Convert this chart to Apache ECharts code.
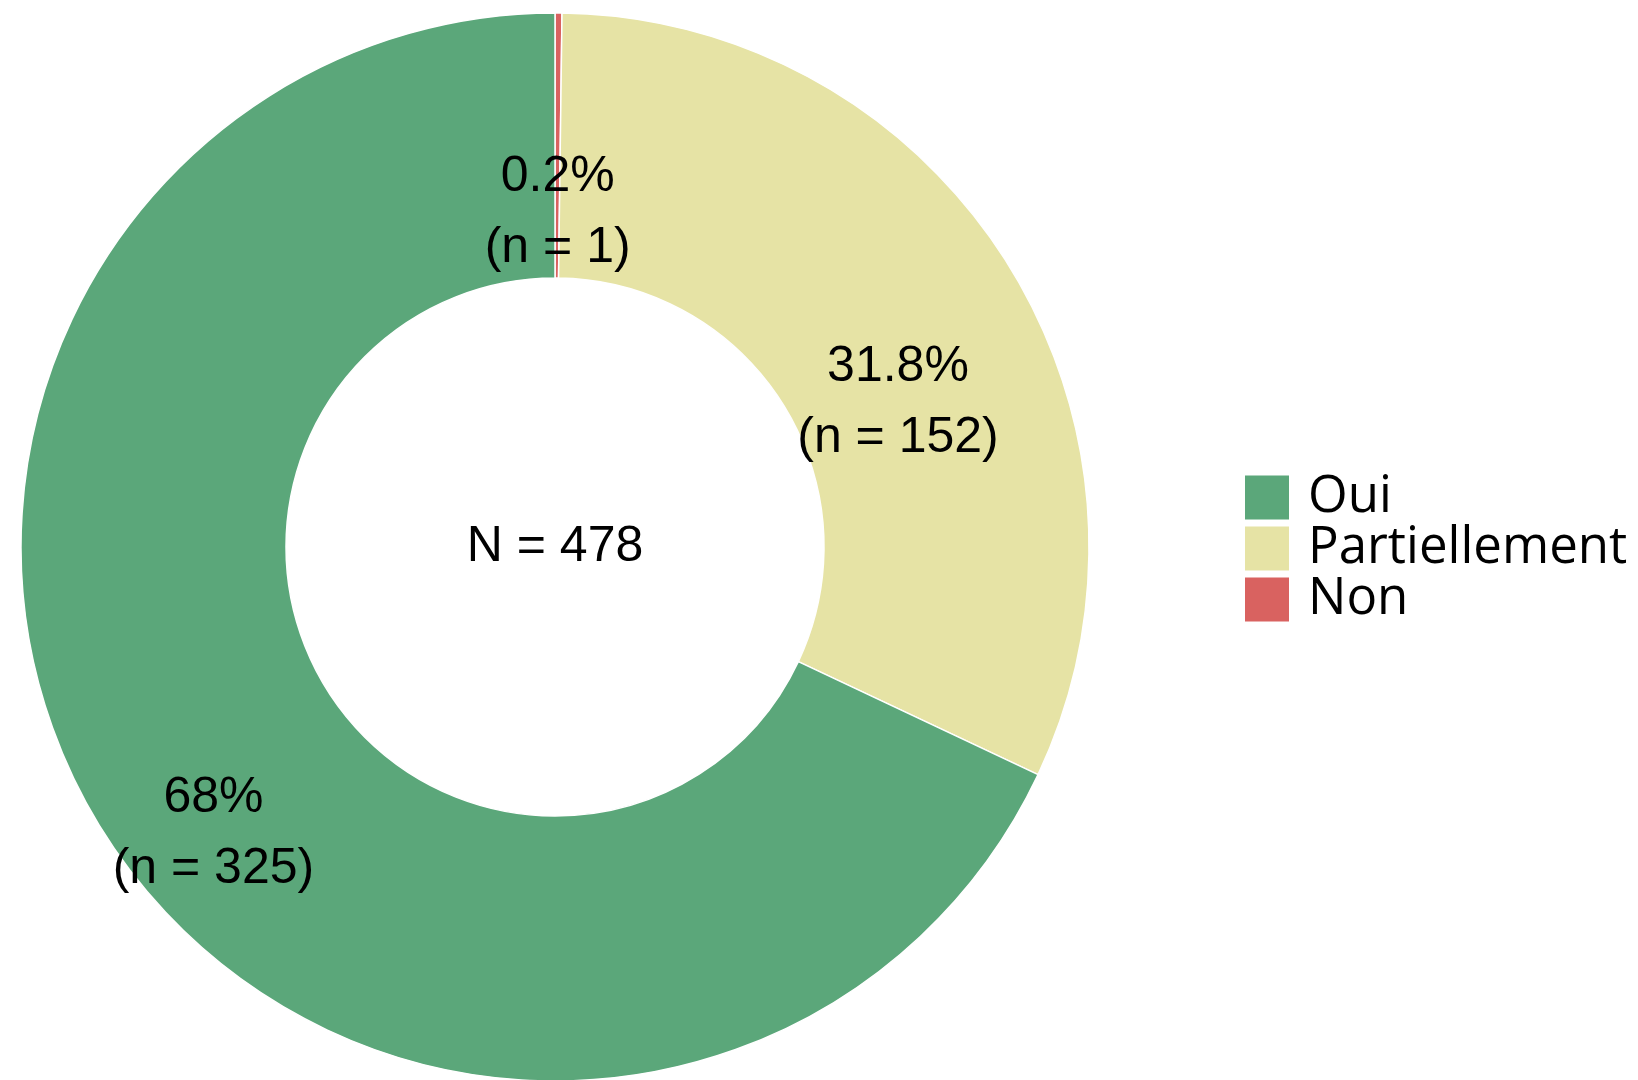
<!DOCTYPE html>
<html>
<head>
<meta charset="utf-8">
<script src="https://cdn.jsdelivr.net/npm/echarts@6/dist/echarts.min.js"></script>
<style>
  html, body { margin: 0; padding: 0; background: #ffffff; }
  #chart { width: 1638px; height: 1080px; }
</style>
</head>
<body>
<div id="chart"></div>
<script>
// Response categories, in drawing order (clockwise from 12 o'clock)
const categories = ['Non', 'Partiellement', 'Oui'];
const counts = [1, 152, 325];
const colors = ['#D96260', '#E6E3A5', '#5BA77A'];
// Legend order
const legendOrder = ['Oui', 'Partiellement', 'Non'];

const total = counts.reduce((a, b) => a + b, 0);

const chart = echarts.init(document.getElementById('chart'));

const pieData = categories.map((name, i) => ({
  name: name,
  value: counts[i],
  itemStyle: { color: colors[i] }
}));

chart.setOption({
  backgroundColor: '#ffffff',
  animation: false,
  title: {
    text: 'N = ' + total,
    left: 555,
    top: 547,
    padding: 0,
    textAlign: 'center',
    textVerticalAlign: 'middle',
    textStyle: {
      fontFamily: '"Liberation Sans", Arial, sans-serif',
      fontSize: 50,
      fontWeight: 'normal',
      color: '#000000'
    }
  },
  legend: {
    data: legendOrder,
    orient: 'vertical',
    left: 1245,
    top: 472,
    padding: 0,
    itemWidth: 44,
    itemHeight: 44,
    itemGap: 0,
    icon: 'rect',
    selectedMode: false,
    itemStyle: { borderWidth: 0 },
    textStyle: {
      fontFamily: '"Open Sans", sans-serif',
      fontSize: 51,
      lineHeight: 44,
      color: '#000000',
      padding: [0, 0, 0, 14]
    }
  },
  series: [{
    type: 'pie',
    center: [555, 547],
    radius: [269, 534],
    startAngle: 90,
    clockwise: true,
    avoidLabelOverlap: false,
    itemStyle: { borderColor: '#ffffff', borderWidth: 1.5 },
    label: {
      show: true,
      position: 'inside',
      offset: [0, 70],
      fontFamily: '"Liberation Sans", Arial, sans-serif',
      fontSize: 50,
      lineHeight: 71,
      color: '#000000',
      formatter: function (p) {
        const pct = +(p.value / total * 100).toFixed(1);
        return pct + '%\n(n = ' + p.value + ')';
      }
    },
    labelLine: { show: false },
    emphasis: { disabled: true },
    data: pieData
  }]
});
</script>
</body>
</html>
